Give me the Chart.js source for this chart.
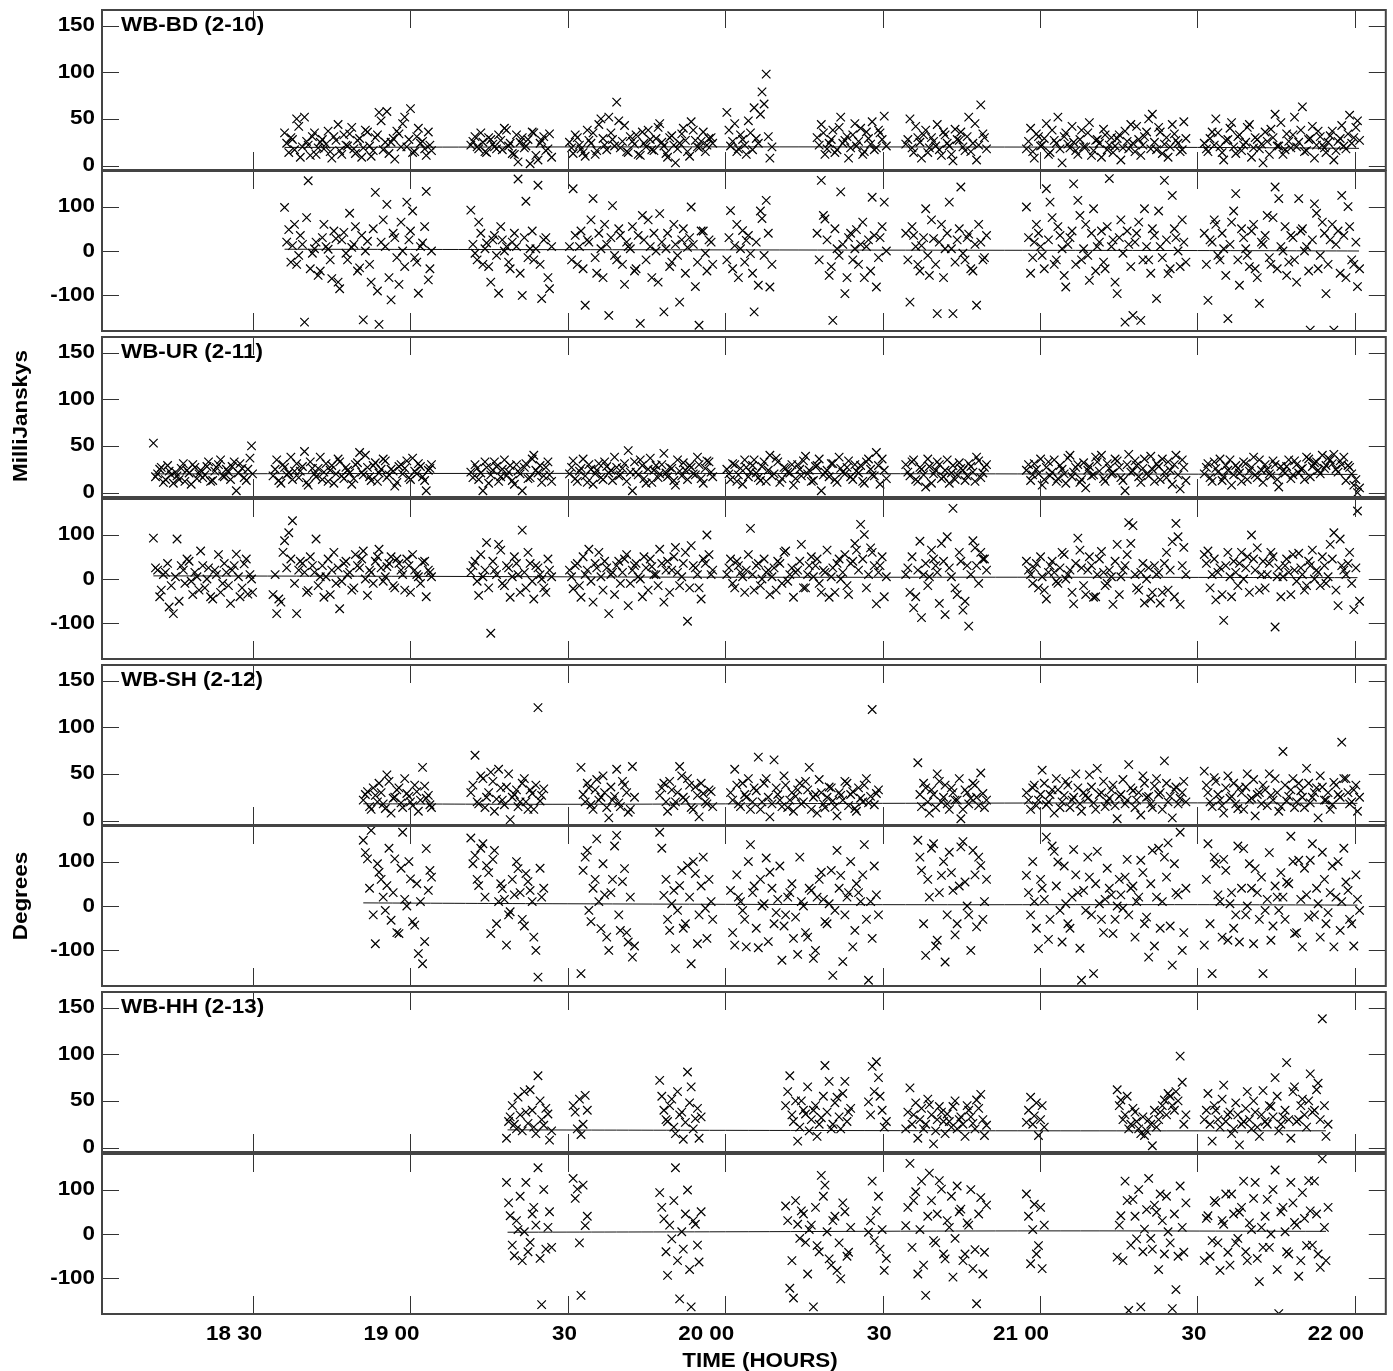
<!DOCTYPE html>
<html>
<head>
<meta charset="utf-8">
<script src="https://cdn.jsdelivr.net/npm/chart.js@4.4.1/dist/chart.umd.min.js"></script>
<style>
  html, body { margin: 0; padding: 0; background: #fff; }
  #page { position: relative; width: 1393px; height: 1371px; overflow: hidden; background: #fff; }
  #page canvas { position: absolute; left: 0; }
  .lbl { position: absolute; font: bold 20px "Liberation Sans", Arial, sans-serif; color: #000;
         white-space: nowrap; line-height: 1; transform: translate(-50%, -50%) scale(1.12, 1); z-index: 5; }
  .rot { transform: translate(-50%, -50%) rotate(-90deg) scale(1.12, 1); }
</style>
</head>
<body>
<div id="page">
  <div class="lbl rot" style="left:20px; top:416px">MilliJanskys</div>
  <div class="lbl rot" style="left:20px; top:896px">Degrees</div>
  <div class="lbl" style="left:760px; top:1360px">TIME (HOURS)</div>
</div>
<script>
// integration times, minutes after 18:00 (one row per scan)
var timeMin = [
  11.0, 11.8, 12.5, 13.3, 14.0, 14.8, 15.5, 16.3, 17.0, 17.8, 18.5, 19.3, 20.0, 20.8, 21.5, 22.3, 23.0, 23.8, 24.5, 25.3, 26.0, 26.8, 27.5, 28.3, 29.0, 29.7,
  33.8, 34.5, 35.3, 36.0, 36.8, 37.5, 38.3, 39.0, 39.8, 40.5, 41.3, 42.0, 42.8, 43.5, 44.3, 45.0, 45.8, 46.5, 47.3, 48.0, 48.8, 49.5, 50.3, 51.0, 51.8, 52.5, 53.3, 54.0, 54.8, 55.5, 56.3, 57.0, 57.8, 58.5, 59.3, 60.0, 60.8, 61.5, 62.3, 63.0, 63.7,
  71.5, 72.3, 73.0, 73.8, 74.5, 75.3, 76.0, 76.8, 77.5, 78.3, 79.0, 79.8, 80.5, 81.3, 82.0, 82.8, 83.5, 84.3, 85.0, 85.8, 86.5,
  90.3, 91.0, 91.8, 92.5, 93.3, 94.0, 94.8, 95.5, 96.3, 97.0, 97.8, 98.5, 99.3, 100.0, 100.8, 101.5, 102.3, 103.0, 103.8, 104.5, 105.3, 106.0, 106.8, 107.5, 108.3, 109.0, 109.8, 110.5, 111.3, 112.0, 112.8, 113.5, 114.3, 115.0, 115.8, 116.5, 117.3,
  120.3, 121.0, 121.8, 122.5, 123.3, 124.0, 124.8, 125.5, 126.3, 127.0, 127.8, 128.5, 129.3, 130.0, 130.8, 131.5, 132.3, 133.0, 133.8, 134.5, 135.3, 136.0, 136.8, 137.5, 138.3, 139.0, 139.8, 140.5, 141.3, 142.0, 142.8, 143.5, 144.3, 145.0, 145.8, 146.5, 147.3, 148.0, 148.8, 149.5, 150.3,
  154.4, 155.2, 155.9, 156.7, 157.4, 158.2, 158.9, 159.7, 160.4, 161.2, 161.9, 162.7, 163.4, 164.2, 164.9, 165.7, 166.4, 167.2, 167.9, 168.7, 169.4,
  177.4, 178.2, 178.9, 179.7, 180.4, 181.2, 181.9, 182.7, 183.4, 184.2, 184.9, 185.7, 186.4, 187.2, 187.9, 188.7, 189.4, 190.2, 190.9, 191.7, 192.4, 193.2, 193.9, 194.7, 195.4, 196.2, 196.9, 197.7, 198.4, 199.2, 199.9, 200.7, 201.4, 202.2, 202.9, 203.7, 204.4, 205.2, 205.9, 206.7, 207.4,
  211.3, 212.0, 212.8, 213.5, 214.3, 215.0, 215.8, 216.5, 217.3, 218.0, 218.8, 219.5, 220.3, 221.0, 221.8, 222.5, 223.3, 224.0, 224.8, 225.5, 226.3, 227.0, 227.8, 228.5, 229.3, 230.0, 230.8, 231.5, 232.3, 233.0, 233.8, 234.5, 235.3, 236.0, 236.8, 237.5, 238.3, 239.0, 239.8, 240.5
];
// the interleaved integrations between the ones above
var timeMinB = [
  11.4, 12.2, 12.9, 13.7, 14.4, 15.2, 15.9, 16.7, 17.4, 18.2, 18.9, 19.7, 20.4, 21.2, 21.9, 22.7, 23.4, 24.2, 24.9, 25.7, 26.4, 27.2, 27.9, 28.7, 29.4, 29.9,
  34.2, 34.9, 35.7, 36.4, 37.2, 37.9, 38.7, 39.4, 40.2, 40.9, 41.7, 42.4, 43.2, 43.9, 44.7, 45.4, 46.2, 46.9, 47.7, 48.4, 49.2, 49.9, 50.7, 51.4, 52.2, 52.9, 53.7, 54.4, 55.2, 55.9, 56.7, 57.4, 58.2, 58.9, 59.7, 60.4, 61.2, 61.9, 62.7, 63.4, 64.0,
  71.9, 72.7, 73.4, 74.2, 74.9, 75.7, 76.4, 77.2, 77.9, 78.7, 79.4, 80.2, 80.9, 81.7, 82.4, 83.2, 83.9, 84.7, 85.4, 86.2, 86.9,
  90.7, 91.4, 92.2, 92.9, 93.7, 94.4, 95.2, 95.9, 96.7, 97.4, 98.2, 98.9, 99.7, 100.4, 101.2, 101.9, 102.7, 103.4, 104.2, 104.9, 105.7, 106.4, 107.2, 107.9, 108.7, 109.4, 110.2, 110.9, 111.7, 112.4, 113.2, 113.9, 114.7, 115.4, 116.2, 116.9, 117.6,
  120.7, 121.4, 122.2, 122.9, 123.7, 124.4, 125.2, 125.9, 126.7, 127.4, 128.2, 128.9, 129.7, 130.4, 131.2, 131.9, 132.7, 133.4, 134.2, 134.9, 135.7, 136.4, 137.2, 137.9, 138.7, 139.4, 140.2, 140.9, 141.7, 142.4, 143.2, 143.9, 144.7, 145.4, 146.2, 146.9, 147.7, 148.4, 149.2, 149.9, 150.7,
  154.8, 155.6, 156.3, 157.1, 157.8, 158.6, 159.3, 160.1, 160.8, 161.6, 162.3, 163.1, 163.8, 164.6, 165.3, 166.1, 166.8, 167.6, 168.3, 169.1, 169.8,
  177.8, 178.6, 179.3, 180.1, 180.8, 181.6, 182.3, 183.1, 183.8, 184.6, 185.3, 186.1, 186.8, 187.6, 188.3, 189.1, 189.8, 190.6, 191.3, 192.1, 192.8, 193.6, 194.3, 195.1, 195.8, 196.6, 197.3, 198.1, 198.8, 199.6, 200.3, 201.1, 201.8, 202.6, 203.3, 204.1, 204.8, 205.6, 206.3, 207.1, 207.8,
  211.7, 212.4, 213.2, 213.9, 214.7, 215.4, 216.2, 216.9, 217.7, 218.4, 219.2, 219.9, 220.7, 221.4, 222.2, 222.9, 223.7, 224.4, 225.2, 225.9, 226.7, 227.4, 228.2, 228.9, 229.7, 230.4, 231.2, 231.9, 232.7, 233.4, 234.2, 234.9, 235.7, 236.4, 237.2, 237.9, 238.7, 239.4, 240.2, 240.9
];

var N26 = [null,null,null,null,null,null,null,null,null,null,null,null,null,null,null,null,null,null,null,null,null,null,null,null,null,null];
var N41 = [null,null,null,null,null,null,null,null,null,null,null,null,null,null,null,null,null,null,null,null,null,null,null,null,null,null,null,null,null,null,null,null,null,null,null,null,null,null,null,null,null];

// WB-BD (2-10)
var bdAmp = N26.concat([
  null, null, null, 35, 14, 28, 50, 9, 52, 22, 31, 12, 25, 18, 37, 8, 27, 16, 33, 21, 41, 13, 29, 19, 36, 10, 30, 57, 17, 58, 25, 7, 34, 45, 20, 61, 15, 40, 26, 11, 22,
  22, 31, 18, 25, 14, 28, 20, 33, 17, 38, 24, 12, 4, 30, 21, 2, 35, 6, 27, 16, 34,
  25, 13, 30, 18, 10, 27, 35, 16, 50, 22, 52, 28, 68, 19, 43, 14, 26, 33, 11, 24, 38, 17, 29, 45, 21, 9, 32, 3, 24, 40, 15, 47, 27, 19, 36, 22, 30,
  57, 21, 45, 18, 28, 12, 35, 62, 24, 79, 98, 8, null, null, null, null, null, null, null, null, null, null, null, 30, 44, 12, 24, 38, 17, 52, 27, 8, 33, 21, 40, 15, 29, 47, 19, 35, 53,
  23, 50, 14, 30, 8, 38, 19, 26, 44, 11, 33, 21, 5, 28, 36, 16, 52, 24, 6, 65, 30,
  18, 40, 8, 31, 22, 45, 14, 27, 52, 3, 35, 19, 25, 12, 38, 20, 46, 16, 28, 9, 33, 22, 14, 29, 6, 37, 18, 24, 42, 11, 31, 50, 55, 17, 36, 23, 9, 44, 27, 15, 47,
  24, 15, 36, 50, 20, 6, 28, 46, 13, 33, 22, 41, 9, 30, 18, 3, 26, 39, 55, 21, 12, 34, 19, 52, 25, 63, 16, 29, 8, 37, 22, 14, 32, 6, 26, 43, 18, 54, 30, 48
]);
var bdAmpB = N26.concat([
  null, null, null, 24, 30, 17, 42, 20, 26, 11, 35, 19, 28, 23, 15, 31, 44, 12, 22, 34, 18, 27, 9, 38, 21, 16, 33, 48, 25, 13, 29, 37, 20, 52, 28, 14, 31, 24, 18, 36, 16,
  26, 20, 35, 15, 30, 23, 18, 27, 40, 21, 13, 33, 25, 19, 28, 36, 11, 24, 31, 18, 9,
  19, 33, 22, 14, 38, 24, 12, 44, 29, 17, 35, 21, 48, 26, 15, 31, 23, 12, 36, 20, 28, 16, 41, 25, 13, 30, 22, 18, 34, 27, 10, 38, 20, 26, 15, 29, 24,
  38, 26, 15, 33, 22, 48, 17, 29, 55, 66, 31, 20, null, null, null, null, null, null, null, null, null, null, null, 22, 35, 18, 28, 14, 41, 24, 31, 19, 45, 26, 12, 36, 23, 17, 38, 28, 21,
  28, 19, 42, 25, 33, 14, 30, 21, 17, 36, 24, 12, 39, 27, 20, 31, 15, 45, 22, 34, 18,
  26, 15, 34, 21, 29, 12, 38, 24, 18, 31, 23, 42, 16, 28, 20, 35, 11, 27, 24, 39, 17, 30, 21, 33, 19, 26, 44, 15, 28, 22, 36, 18, 25, 41, 13, 30, 20, 34, 24, 17, 29,
  18, 29, 22, 35, 14, 27, 40, 20, 31, 16, 25, 44, 19, 28, 23, 36, 12, 30, 21, 46, 17, 26, 33, 20, 38, 15, 28, 42, 22, 31, 19, 25, 37, 16, 29, 21, 34, 24, 41, 27
]);
var bdPhase = N26.concat([
  null, null, null, 98, 48, 12, -30, 35, -160, 158, -5, 20, -45, 60, 4, -62, 28, -85, 42, -20, 8, 55, -38, -155, 22, -70, 132, -165, 70, 105, -110, 30, -75, 0, 110, 45, -15, -95, 18, 134, -40,
  92, -5, 65, -30, 18, -70, 35, -95, 25, 10, -40, 40, 162, -100, 112, 5, -20, 148, -107, 30, -85,
  10, 140, -30, 45, -122, 20, 118, -50, 5, 60, -145, 102, -20, 35, -75, 10, 55, -40, -163, 25, 70, -60, 0, 84, -137, 40, -25, 15, -115, 50, 8, 99, -80, -167, 45, -45, 20,
  -20, 91, 12, -60, 46, 24, -6, -137, -77, 73, 114, -81, null, null, null, null, null, null, null, null, null, null, null, 40, 159, 72, -55, -156, 5, 133, -96, 30, -20, 48, 15, -60, 25, 121, -81, 30, 110,
  40, -115, 35, -30, 12, 95, -55, 28, -141, 60, 5, 110, -141, 25, 144, -20, 38, -45, -122, 20, -15,
  99, -50, 20, 40, -10, 140, 110, -30, 55, 5, -81, 30, 151, 114, -20, 60, -66, 95, 10, 45, -40, 163, 25, -96, 70, -160, 15, -145, 40, -156, 95, -20, 50, -107, 10, 159, -51, 125, 30, -35, 20,
  40, -111, 20, 60, -20, 5, -152, 65, 129, -77, 30, -10, 45, -40, -118, 15, 80, -30, 144, 118, 0, -55, 35, -20, 118, 50, 10, -178, 106, -40, 65, -96, 25, -178, 45, 125, -60, 55, -30, -80
]);
var bdPhaseB = N26.concat([
  null, null, null, 20, -25, 60, -10, 15, 75, -40, 5, -55, 30, 10, -20, 45, -70, 25, -5, 85, 15, -45, 35, 0, -30, 50, -90, 20, 10, -60, 40, -15, 65, -35, 25, 90, -25, 10, 55, -65, 0,
  15, -20, 40, 5, -35, 25, -10, 55, 0, -25, 20, 10, -50, 30, -15, 45, 5, -30, 25, -60, 10,
  -20, 35, 10, -40, 25, 70, -15, 40, -60, 15, 30, -10, 50, -30, 20, 5, -45, 35, 80, -20, 10, 40, -70, 20, 5, -35, 60, -10, 25, -50, 30, 15, -25, 45, -5, 25, -30,
  30, -40, 60, 5, -25, 35, -50, 20, 90, -10, 40, -30, null, null, null, null, null, null, null, null, null, null, null, -20, 80, 25, -35, 50, -10, 15, -60, 40, 5, -30, 65, 10, -45, 35, -15, 55, 0,
  -20, 55, 10, -45, 30, -10, 70, -30, 20, -60, 40, 5, -25, 50, -5, 30, -40, 15, 60, -20, 35,
  30, -15, 60, 10, -40, 25, 75, -20, 35, -55, 15, 45, -30, 80, 5, -10, 40, -45, 20, -25, 55, 10, -70, 30, -5, 45, -35, 20, 65, -20, 10, -50, 35, 90, -15, 25, -40, 50, 0, 70, -25,
  -30, 25, 70, -10, 40, -55, 15, 90, -20, 50, 5, -35, 60, -60, 20, 35, -15, 75, -40, 10, 55, -25, 30, -70, 45, 0, -45, 25, 85, -10, 40, -30, 60, 15, -50, 35, 100, -20, 20, -40
]);

// WB-UR (2-11)
var urAmp = [
  53, 20, 27, 14, 23, 10, 18, 26, 12, 21, 30, 15, 24, 19, 33, 13, 27, 35, 17, 22, 28, 2, 31, 16, 25, 50,
  18, 35, 10, 27, 21, 14, 31, 23, 44, 8, 26, 17, 38, 22, 12, 29, 20, 33, 15, 24, 9, 30, 43, 19, 27, 13, 32, 21, 36, 16, 25, 7, 28, 20, 34, 14, 23, 31, 17, 2, 26,
  22, 30, 14, 2, 27, 19, 33, 12, 25, 18, 29, 9, 23, 2, 31, 16, 40, 21, 11, 27, 19,
  20, 34, 12, 26, 18, 30, 9, 24, 16, 33, 21, 13, 27, 19, 31, 45, 2, 22, 35, 15, 25, 11, 29, 20, 42, 17, 26, 8, 23, 32, 14, 27, 19, 30, 10, 34, 22,
  25, 14, 30, 19, 9, 27, 22, 35, 16, 28, 12, 40, 20, 33, 15, 26, 21, 8, 30, 18, 39, 24, 13, 29, 2, 22, 17, 31, 11, 26, 20, 34, 14, 23, 29, 10, 36, 19, 43, 9, 24,
  30, 18, 35, 12, 25, 6, 28, 20, 33, 15, 24, 10, 29, 19, 26, 13, 31, 22, 38, 16, 27,
  24, 13, 31, 20, 8, 27, 18, 35, 15, 25, 10, 40, 22, 30, 14, 5, 28, 19, 33, 40, 12, 26, 21, 34, 16, 2, 41, 23, 29, 11, 36, 18, 25, 31, 14, 22, 33, 9, 40, 4, 27,
  20, 31, 12, 26, 36, 17, 24, 8, 29, 21, 33, 14, 27, 19, 35, 11, 25, 18, 30, 6, 23, 28, 15, 34, 21, 26, 38, 17, 32, 24, 40, 29, 35, 41, 22, 30, 13, 27, 8, 0
];
var urAmpB = [
  17, 25, 11, 29, 19, 22, 14, 31, 24, 9, 27, 20, 16, 28, 12, 23, 30, 18, 25, 14, 33, 21, 26, 13, 37, 20,
  25, 13, 30, 19, 38, 23, 16, 28, 11, 33, 20, 26, 14, 31, 24, 10, 36, 18, 27, 21, 15, 32, 22, 40, 17, 29, 12, 25, 34, 19, 23, 11, 30, 26, 16, 37, 20, 28, 13, 24, 30,
  16, 26, 21, 33, 10, 24, 28, 17, 35, 22, 13, 30, 20, 27, 15, 36, 24, 29, 18, 33, 12,
  27, 15, 23, 36, 11, 25, 20, 31, 14, 28, 24, 38, 18, 26, 12, 22, 33, 19, 29, 10, 37, 24, 16, 30, 21, 27, 13, 35, 18, 24, 29, 20, 38, 15, 26, 33, 17,
  20, 31, 12, 26, 35, 17, 29, 21, 13, 33, 24, 18, 37, 11, 27, 22, 30, 15, 25, 34, 20, 12, 28, 36, 19, 24, 31, 14, 38, 22, 27, 17, 30, 21, 12, 33, 25, 18, 29, 36, 15,
  22, 33, 14, 27, 19, 36, 10, 24, 30, 17, 35, 21, 14, 32, 24, 18, 28, 12, 34, 21, 30,
  30, 19, 25, 36, 14, 33, 22, 12, 29, 20, 37, 17, 27, 11, 32, 24, 18, 38, 23, 15, 31, 20, 36, 27, 13, 30, 22, 34, 17, 26, 20, 39, 12, 28, 36, 16, 24, 30, 19, 35, 13,
  27, 16, 33, 22, 13, 29, 35, 19, 26, 12, 31, 23, 38, 16, 24, 30, 20, 34, 14, 28, 21, 35, 19, 30, 25, 14, 36, 28, 33, 20, 26, 37, 31, 25, 34, 38, 29, 20, 14, 5
];
var urPhase = [
  92, 20, -25, 15, -63, -78, 90, 30, -10, 40, -35, 5, 63, -20, 25, -45, 10, -30, 35, -15, 20, 56, -40, 34, -34, 0,
  -35, -78, -52, 86, 104, 131, -78, 40, 15, -26, 30, 90, 5, -41, 45, 20, -10, -67, 35, 10, -25, 55, 25, 63, -37, 15, 40, 67, -5, 28, 50, -20, 35, 10, 45, -30, 20, 5, 38, -40, 15,
  15, 40, -37, 5, 82, -122, 20, 78, -10, 30, -41, 50, 10, 110, -20, 35, -45, 25, 0, -30, 20,
  20, -22, 35, -41, 10, 67, -52, 25, 5, 40, -78, 15, 30, -10, 45, -60, 20, 35, 0, 50, -25, 28, 10, 67, -52, 40, 20, 71, -15, 35, -95, 75, 25, -20, 45, 99, 10,
  10, 45, -20, 30, 5, 20, 114, -25, 35, 0, 15, -35, 25, 40, -10, 63, 10, -41, 20, 78, -20, 30, 5, 45, -30, 15, -41, 25, 35, 0, 55, -35, 40, 65, 123, 100, 10, 60, -56, 30, -40,
  10, -30, -65, 20, -87, 35, 5, 45, 15, 80, -80, 25, 159, -35, 40, -50, -106, 86, 30, 60, 45,
  40, 10, 25, -20, 5, -45, 30, 15, -10, 60, 0, 20, -56, 92, 25, -35, 50, -41, 10, 62, -15, 20, -57, 78, 5, 30, 127, 120, -20, 15, -54, 25, -30, 10, -54, 35, -25, 84, 125, -57, 71,
  55, 63, 10, -47, 25, -93, 60, -40, 15, 35, 0, 50, 99, 20, -25, 40, 10, 60, -108, 25, 5, 45, -35, 20, 58, 10, -15, 30, 0, 15, 50, -10, 78, 104, -60, 30, 10, 60, -69, 153
];
var urPhaseB = [
  25, -40, 10, 35, -15, 5, -50, 20, 45, -5, 15, -25, 30, 0, -40, 20, 55, -10, 15, -55, 30, 5, -20, 45, 10, -30,
  10, -45, 60, 25, 45, -10, 20, 35, -30, 50, 15, -15, 30, 5, -35, 60, 25, -5, 40, 15, -20, 30, 45, 0, 20, -10, 50, 25, 5, 35, -15, 45, 20, -25, 30, 55, 10, -10, 40, 20, 5,
  30, -5, 55, 20, -20, 40, 10, 65, -15, 25, 5, 35, -30, 15, 60, -5, 30, 10, -20, 45, 5,
  5, 30, -15, 50, 20, -5, 35, 60, -25, 25, 10, -35, 40, 15, 55, -10, 30, 5, -40, 25, 45, 10, -15, 35, 20, -30, 50, 15, 5, 60, -20, 30, 10, -45, 35, 55, 20,
  25, -10, 40, 15, -30, 55, 10, 30, -15, 45, 20, 5, -25, 35, 60, -5, 25, 15, 40, -20, 10, 50, 30, -10, 20, 65, 5, -30, 45, 15, -15, 35, 80, 20, 45, -20, 70, 30, 15, 50, 5,
  25, 50, -40, 85, 10, -15, 65, 30, -55, 40, 95, 5, -20, 60, -70, 30, 10, 70, -10, 45, 20,
  20, -10, 35, 50, -25, 15, 40, -5, 25, 55, 10, -30, 35, 65, -15, 20, 30, -40, 45, 15, -10, 5, 40, -35, 20, 55, 80, 10, -25, 35, 0, -45, 30, 15, -30, 60, 20, -40, 95, 30, 10,
  35, -20, 45, 15, -35, 30, 5, 40, -15, 60, 25, -30, 45, 70, 10, -20, 35, 50, 5, -40, 30, 15, 55, -5, 25, -25, 40, 65, 20, -15, 30, 5, 45, -25, 90, 20, 35, -10, 25, -50
];

// WB-SH (2-12)
var shAmp = N26.concat([
  null, null, null, null, null, null, null, null, null, null, null, null, null, null, null, null, null, null, null, null, null, null, null,
  22, 31, 12, 27, 40, 18, 49, 8, 25, 35, 14, 29, 20, 38, 10, 57, 24, 17,
  30, 70, 18, 45, 25, 52, 10, 55, 22, 36, 1, 28, 15, 40, 20, 33, 12, 121, 27, null, null,
  null, null, null, 57, 20, 35, 12, 44, 25, 30, 3, 22, 55, 15, 38, 9, 58, null, null, null, null, null, null, 27, 40, 10, 33, 20, 58, 25, 45, 14, 36, 4, 29, 18, 31,
  null, 30, 55, 18, 40, 25, 12, 35, 68, 20, 45, 4, 65, 28, 15, 38, 22, 10, 33, 18, 42, 57, 25, 8, 30, 14, 36, 21, 5, 27, 42, 16, 31, 10, 24, 38, 19, 119, 29, null, null,
  null, null, null, 62, 15, 35, 8, 28, 50, 20, 38, 12, 30, 22, 2, 33, 18, 40, 25, 51, 14,
  30, 12, 38, 22, 54, 17, 28, 8, 33, 20, 42, 14, 25, 35, 10, 27, 49, 19, 56, 30, 15, 24, 38, 2, 28, 18, 60, 32, 22, 6, 40, 26, 14, 45, 30, 64, 20, 3, 36, 24, 42,
  53, 30, 15, 42, 22, 8, 48, 26, 18, 35, 12, 50, 24, 5, 30, 38, 16, 27, 45, 10, 74, 21, 33, 14, 40, 25, 56, 19, 30, 3, 36, 22, 12, 41, 28, 84, 45, 18, 33, 10
]);
var shAmpB = N26.concat([
  null, null, null, null, null, null, null, null, null, null, null, null, null, null, null, null, null, null, null, null, null, null, null,
  28, 15, 35, 20, 30, 13, 42, 24, 33, 19, 45, 26, 16, 31, 22, 37, 27, 14,
  38, 20, 48, 14, 30, 42, 23, 35, 17, 50, 25, 33, 20, 45, 12, 29, 38, 21, 34, null, null,
  null, null, null, 28, 40, 17, 33, 22, 48, 14, 36, 26, 19, 42, 30, 12, 25, null, null, null, null, null, null, 35, 20, 42, 16, 30, 48, 22, 38, 12, 27, 40, 20, 33, 15,
  null, 22, 38, 15, 28, 45, 20, 32, 12, 40, 25, 18, 35, 22, 48, 14, 30, 26, 40, 20, 33, 12, 28, 44, 18, 25, 35, 15, 30, 22, 40, 28, 13, 35, 20, 45, 26, 17, 33, null, null,
  null, null, null, 28, 40, 20, 33, 14, 42, 25, 18, 35, 22, 45, 12, 30, 24, 38, 16, 29, 22,
  22, 35, 16, 28, 40, 20, 33, 45, 14, 27, 38, 22, 50, 18, 30, 24, 36, 12, 28, 42, 20, 33, 16, 26, 44, 22, 35, 14, 30, 48, 25, 18, 37, 28, 12, 40, 26, 33, 18, 30, 20,
  38, 20, 46, 28, 16, 35, 24, 40, 13, 30, 36, 22, 44, 28, 18, 33, 50, 22, 30, 15, 38, 26, 45, 20, 32, 14, 40, 25, 35, 48, 22, 30, 17, 38, 25, 45, 30, 20, 38, 25
]);
var shPhase = N26.concat([
  null, null, null, null, null, null, null, null, null, null, null, null, null, null, null, null, null, null, null, null, null, null, null,
  148, 106, 170, -85, 76, 20, 46, -32, 106, -62, 166, 0, 61, -43, -107, -130, 129, 80,
  153, 114, 46, 140, 91, -62, 125, 10, 39, -88, -13, 25, 84, -30, 73, 35, -70, -160, 20, null, null,
  null, null, null, -152, 110, -10, 40, 151, -51, 25, -100, 60, 159, -55, 84, -81, -115, null, null, null, null, null, null, 166, 24, -30, 5, -96, 46, -50, 91, -130, 73, -20, 110, -73, 10,
  null, 35, -88, 20, -10, -92, 138, 45, -94, 0, 108, 76, -40, 15, -122, -20, 30, -73, -109, 10, -60, 40, -118, 20, 76, -35, 5, -156, 125, 69, -20, 30, -92, 50, 10, 138, -167, -73, 25, null, null,
  null, null, null, 148, 80, -111, 20, 140, -77, 69, -126, 121, 35, -40, 133, 54, -20, 125, -47, 91, 10,
  69, -20, 10, -96, 40, 155, -30, 123, 99, -81, 5, -50, 127, 30, -167, -10, 65, -152, 123, -30, 15, 40, -62, 0, 25, 65, -20, 45, 10, 103, -40, -115, 125, 20, -50, 110, 142, -133, 30, 166, -60,
  -88, 140, -152, 95, 10, 105, -77, 30, -20, -81, 129, 0, 40, 84, -30, -152, 15, -77, 45, -10, 20, 54, 157, -62, 103, -92, 25, 103, -20, 5, 121, -40, 30, -92, 100, 10, 54, -30, -90, 15
]);
var shPhaseB = N26.concat([
  null, null, null, null, null, null, null, null, null, null, null, null, null, null, null, null, null, null, null, null, null, null, null,
  120, 40, -20, 95, 60, -10, 130, 30, -60, 85, 15, 100, -35, 50, 10, -80, 35, 65,
  95, 60, 130, 20, 75, 105, -40, 50, 15, -20, 60, 100, 30, -45, 55, 10, -100, 85, 40, null, null,
  null, null, null, 80, 125, -35, 60, 10, 95, -70, 30, 135, -20, 55, -60, 20, -90, null, null, null, null, null, null, 130, 60, -55, 35, -10, 80, -40, 20, 100, -85, 45, -5, 60, -30,
  null, -60, 70, 10, -30, 100, 30, -50, 60, 5, -80, 40, -15, 90, -45, 20, 50, -25, 110, 0, -70, 35, -100, 60, 15, -40, 80, -10, 40, -125, 20, 100, -55, 30, 70, -30, 10, 90, -20, null, null,
  null, null, null, 110, -40, 60, 130, -90, 30, 100, -20, 75, -65, 45, 145, 0, -100, 70, 110, -30, 60,
  30, 100, -50, 60, 15, -75, 135, 45, -10, 90, -40, 20, 70, -95, 35, 110, -20, 50, 5, -60, 85, 25, -30, 60, -5, 105, 40, -70, 20, 75, -25, 50, -90, 130, 10, 65, -45, 95, 25, -100, 40,
  60, -40, 110, 25, -70, 80, 5, -50, 135, 40, -20, 95, -85, 30, 65, -10, 120, -45, 20, 75, -30, 50, 100, -60, 15, 85, -25, 140, 40, -70, 60, -15, 90, 20, -55, 130, 35, -40, 70, -10
]);

// WB-HH (2-13)
var hhAmp = N26.concat(N41, [
  null, null, null, null, null, null, null, null, null, 10, 33, 25, 54, 18, 38, 62, 22, 77, 30, 42, 8,
  null, 45, 20, 14, 56, null, null, null, null, null, null, null, null, null, null, null, null, null, null, null, null, null, null, 72, 40, 28, 52, 15, 35, 9, 81, 65, 31, 10, null, null, null,
  null, null, null, null, null, null, null, null, null, null, null, null, null, null, null, 45, 77, 28, 7, 50, 36, 18, 40, 12, 32, 88, 71, 25, 54, 20, 71, 38, null, null, null, null, 49, 87, 92, 55, 22,
  20, 64, 35, 10, 42, 25, 46, 4, 30, 38, 15, 28, 44, 20, 33, 12, 40, 26, 51, 57, 13,
  27, 54, 34, 13, 45, null, null, null, null, null, null, null, null, null, null, null, null, null, null, null, null, null, null, 62, 51, 35, 20, 42, 28, 15, 13, 30, 2, 22, 38, 51, 58, 45, 60, 98, 25,
  30, 58, 7, 40, 22, 67, 35, 15, 48, 3, 28, 60, 20, 38, 12, 61, 25, 44, 75, 18, 33, 91, 10, 65, 30, 52, 22, 79, 40, 69, 138, 12, null, null, null, null, null, null, null, null
]);
var hhAmpB = N26.concat(N41, [
  null, null, null, null, null, null, null, null, null, 28, 45, 20, 35, 60, 26, 40, 15, 50, 24, 36, 18,
  null, 38, 52, 25, 40, null, null, null, null, null, null, null, null, null, null, null, null, null, null, null, null, null, null, 55, 30, 45, 22, 60, 38, 27, 48, 20, 42, 33, null, null, null,
  null, null, null, null, null, null, null, null, null, null, null, null, null, null, null, 60, 35, 50, 22, 40, 65, 30, 45, 25, 55, 38, 20, 48, 33, 58, 28, 42, null, null, null, null, 35, 60, 75, 40, 28,
  38, 25, 48, 30, 20, 52, 35, 18, 44, 28, 36, 22, 50, 30, 25, 45, 33, 20, 42, 30, 24,
  40, 25, 48, 30, 22, null, null, null, null, null, null, null, null, null, null, null, null, null, null, null, null, null, null, 45, 30, 55, 25, 38, 20, 33, 18, 25, 40, 30, 45, 35, 55, 40, 50, 70, 35,
  40, 25, 45, 30, 52, 28, 38, 20, 35, 25, 42, 30, 50, 22, 35, 28, 45, 33, 55, 25, 40, 30, 60, 28, 45, 35, 50, 38, 62, 30, 45, 25, null, null, null, null, null, null, null, null
]);
var hhPhase = N26.concat(N41, [
  null, null, null, null, null, null, null, null, null, 116, 41, -49, 10, -60, 116, -19, 60, 149, -159, -34, 50,
  null, 125, 101, -138, 19, null, null, null, null, null, null, null, null, null, null, null, null, null, null, null, null, null, null, 93, 34, -93, -11, 149, -146, -34, 99, -164, 22, -63, null, null, null,
  null, null, null, null, null, null, null, null, null, null, null, null, null, null, null, 63, -122, -144, 22, 52, -19, 10, -164, -26, 132, 110, -56, 30, -82, -101, 50, -41, null, null, null, null, 4, 119, 52, -34, -82,
  19, 159, 75, -90, 119, -138, 137, -15, 45, 101, -56, 15, -97, 108, 56, -45, 20, -78, -157, 82, -41,
  90, -67, 67, -26, -78, null, null, null, null, null, null, null, null, null, null, null, null, null, null, null, null, null, null, -52, 41, 119, -172, 78, -11, -164, 11, 125, -34, 49, 90, -45, 5, -168, -125, 108, -41,
  -60, 41, -15, 71, -82, 22, -41, 90, -20, 49, 119, -60, 10, 116, -107, -30, 78, 0, 144, -179, 60, -40, 116, 26, -95, 93, -26, 52, 119, -45, 169, -60, null, null, null, null, null, null, null, null
]);
var hhPhaseB = N26.concat(N41, [
  null, null, null, null, null, null, null, null, null, 70, -25, 30, 85, 5, -40, 45, 20, -55, 100, 15, -30,
  null, 80, -20, 110, 40, null, null, null, null, null, null, null, null, null, null, null, null, null, null, null, null, null, null, 60, -40, 20, 75, -60, 5, 45, -80, 30, -25, 50, null, null, null,
  null, null, null, null, null, null, null, null, null, null, null, null, null, null, null, 30, -60, 75, -10, 45, -90, 20, 60, -40, 85, 5, -70, 40, -20, 70, -50, 15, null, null, null, null, 30, -15, 85, 10, -55,
  60, -30, 95, 10, -70, 40, 75, -20, 120, -45, 30, 85, -10, 50, -60, 25, 100, -35, 45, -90, 65,
  40, 10, -45, 60, 20, null, null, null, null, null, null, null, null, null, null, null, null, null, null, null, null, null, null, 20, -60, 75, -25, 40, 100, -40, 55, -10, 65, -80, 30, 85, -20, 45, -50, 15, 70,
  35, -50, 75, -20, 30, 90, -70, 45, -10, 60, -40, 25, 80, -55, 15, 40, -30, 100, -80, 50, 5, -45, 70, 20, -60, 35, 120, -25, 45, -75, 15, 60, null, null, null, null, null, null, null, null
]);

// fitted model curves
var bdModelTime = [36, 90, 150, 210, 240.8];
var bdModelAmp = [19.5, 20, 20, 19.5, 18.5];
var bdModelPhase = [4, 3, 2, 1, 0];
var urModelTime = [11, 60, 120, 180, 240.5];
var urModelAmp = [20, 20.5, 20.5, 20, 19.5];
var urModelPhase = [7, 6, 4, 4, 3];
var shModelTime = [51, 90, 150, 210, 240.5];
var shModelAmp = [18, 17.5, 18.5, 19, 18.5];
var shModelPhase = [7, 5, 3, 3, 2];
var hhModelTime = [78.5, 120, 180, 234.5];
var hhModelAmp = [19, 18.5, 18, 18];
var hhModelPhase = [4, 5, 7, 6];

var baselineNames = ['WB-BD (2-10)', 'WB-UR (2-11)', 'WB-SH (2-12)', 'WB-HH (2-13)'];

var xTickValues = [30, 60, 90, 120, 150, 180, 210, 240];
var xTickLabels = ['18 30', '19 00', '30', '20 00', '30', '21 00', '30', '22 00'];
var ampTicks = [0, 50, 100, 150];
var ampTickLabels = ['0', '50', '100', '150'];
var phaseTicks = [-100, 0, 100];
var phaseTickLabels = ['-100', '0', '100'];

// layout
var X_MIN = 1.2, X_MAX = 245.9;
var AMP_MIN = -4.7, AMP_MAX = 166.7;
var PHASE_MIN = -180, PHASE_MAX = 180;
var ampTops = [10, 337, 665, 992];
var phaseTops = [171, 499, 826, 1154];
var PANEL_H = 160;
var PAD = 12;
var FONT = 'bold 20px "Liberation Sans", Arial, sans-serif';
var STRETCH = 1.12;

function stretchedText(ctx, text, x, y, align) {
  ctx.save();
  ctx.translate(x, y);
  ctx.scale(STRETCH, 1);
  ctx.font = FONT;
  ctx.fillStyle = '#000';
  ctx.textAlign = align;
  ctx.textBaseline = 'middle';
  ctx.fillText(text, 0, 0);
  ctx.restore();
}

var framePlugin = {
  id: 'frame',
  afterDatasetsDraw: function(chart, args, opts) {
    var ctx = chart.ctx, a = chart.chartArea;
    var xs = chart.scales.x, ys = chart.scales.y;
    ctx.save();
    ctx.strokeStyle = '#333';
    ctx.lineWidth = 1;
    ctx.beginPath();
    xTickValues.forEach(function(v) {
      var px = Math.round(xs.getPixelForValue(v)) + 0.5;
      ctx.moveTo(px, a.top); ctx.lineTo(px, a.top + 18);
      ctx.moveTo(px, a.bottom); ctx.lineTo(px, a.bottom - 18);
    });
    opts.yTicks.forEach(function(v) {
      var py = Math.round(ys.getPixelForValue(v)) + 0.5;
      ctx.moveTo(a.left, py); ctx.lineTo(a.left + 17, py);
      ctx.moveTo(a.right, py); ctx.lineTo(a.right - 17, py);
    });
    ctx.stroke();
    ctx.strokeStyle = '#444';
    ctx.lineWidth = 2;
    ctx.strokeRect(a.left, a.top, a.right - a.left, a.bottom - a.top);

    opts.yTicks.forEach(function(v, i) {
      stretchedText(ctx, opts.yLabels[i], a.left - 7, ys.getPixelForValue(v), 'right');
    });
    if (opts.title) {
      stretchedText(ctx, opts.title, a.left + 19, ys.getPixelForValue(150), 'left');
    }
    if (opts.xLabels) {
      xTickValues.forEach(function(v, i) {
        stretchedText(ctx, xTickLabels[i], xs.getPixelForValue(v) + 9, a.bottom + 20, 'right');
      });
    }
    ctx.restore();
  }
};

function toPoints(times, vals) {
  var out = [];
  for (var i = 0; i < times.length; i++) {
    if (vals[i] !== null && vals[i] !== undefined) out.push({x: times[i], y: vals[i]});
  }
  return out;
}

function makePanel(top, vals, valsB, modelT, modelV, isAmp, title, isLast) {
  var canvas = document.createElement('canvas');
  var padBottom = isLast ? 1371 - (top + PANEL_H) : PAD;
  canvas.width = 1393;
  canvas.height = PANEL_H + PAD + padBottom;
  canvas.style.top = (top - PAD) + 'px';
  document.getElementById('page').appendChild(canvas);

  new Chart(canvas, {
    type: 'scatter',
    data: {
      datasets: [{
        data: toPoints(timeMin, vals).concat(toPoints(timeMinB, valsB)),
        pointStyle: 'crossRot',
        pointRadius: 6,
        pointBorderWidth: 1.2,
        borderColor: '#000',
        backgroundColor: '#000'
      }, {
        data: toPoints(modelT, modelV),
        showLine: true,
        borderColor: '#111',
        borderWidth: 1,
        pointRadius: 0,
        tension: 0.4
      }]
    },
    options: {
      responsive: false,
      animation: false,
      events: [],
      layout: {padding: {left: 102, right: 1, top: PAD, bottom: padBottom}},
      plugins: {
        legend: {display: false},
        tooltip: {enabled: false},
        frame: {
          yTicks: isAmp ? ampTicks : phaseTicks,
          yLabels: isAmp ? ampTickLabels : phaseTickLabels,
          title: title,
          xLabels: isLast
        }
      },
      scales: {
        x: {type: 'linear', min: X_MIN, max: X_MAX, display: false},
        y: {min: isAmp ? AMP_MIN : PHASE_MIN, max: isAmp ? AMP_MAX : PHASE_MAX, display: false}
      }
    },
    plugins: [framePlugin]
  });
}

var ampSets = [bdAmp, urAmp, shAmp, hhAmp];
var ampSetsB = [bdAmpB, urAmpB, shAmpB, hhAmpB];
var phaseSets = [bdPhase, urPhase, shPhase, hhPhase];
var phaseSetsB = [bdPhaseB, urPhaseB, shPhaseB, hhPhaseB];
var modelTimes = [bdModelTime, urModelTime, shModelTime, hhModelTime];
var modelAmps = [bdModelAmp, urModelAmp, shModelAmp, hhModelAmp];
var modelPhases = [bdModelPhase, urModelPhase, shModelPhase, hhModelPhase];

for (var k = 0; k < 4; k++) {
  makePanel(ampTops[k], ampSets[k], ampSetsB[k], modelTimes[k], modelAmps[k], true, baselineNames[k], false);
  makePanel(phaseTops[k], phaseSets[k], phaseSetsB[k], modelTimes[k], modelPhases[k], false, null, k === 3);
}
</script>
</body>
</html>
